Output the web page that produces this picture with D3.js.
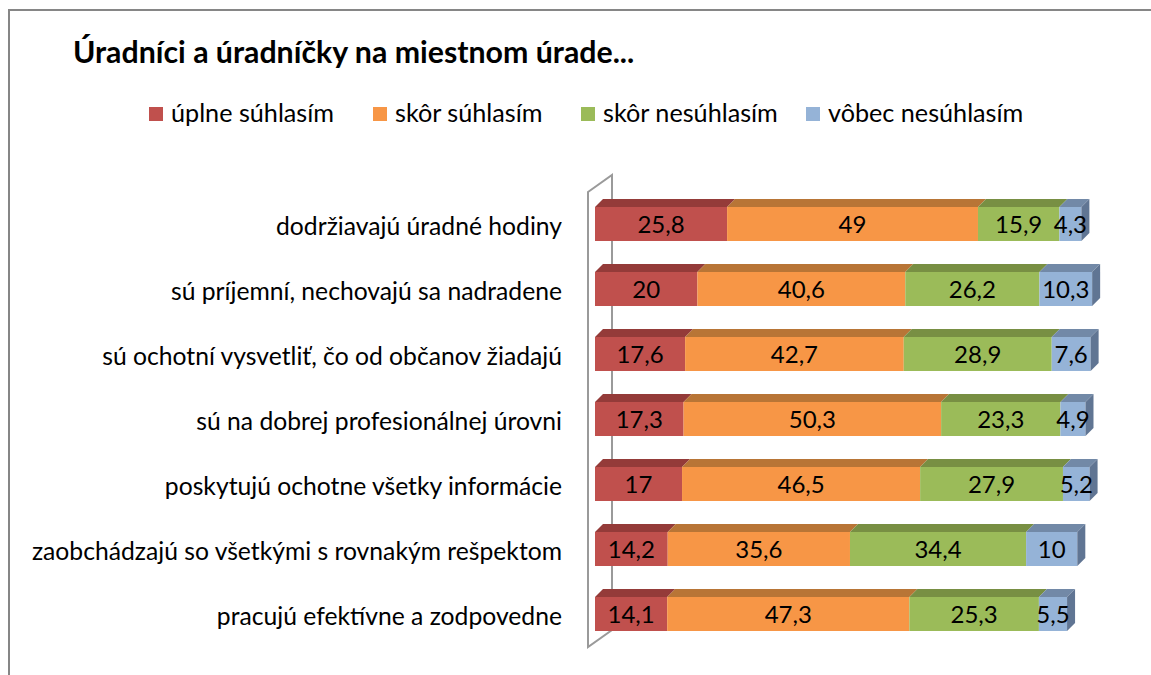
<!DOCTYPE html>
<html>
<head>
<meta charset="utf-8">
<script src="https://cdn.jsdelivr.net/npm/d3@7"></script>
<style>
  html, body { margin: 0; padding: 0; background: #fff; }
  svg { display: block; font-family: Lato, "Open Sans", sans-serif; }
</style>
</head>
<body>
<div id="chart"></div>
<script>
// ===== údaje grafu =====
const categories = [
    'dodržiavajú úradné hodiny',
    'sú príjemní, nechovajú sa nadradene',
    'sú ochotní vysvetliť, čo od občanov žiadajú',
    'sú na dobrej profesionálnej úrovni',
    'poskytujú ochotne všetky informácie',
    'zaobchádzajú so všetkými s rovnakým rešpektom',
    'pracujú efektívne a zodpovedne'
];
const seriesNames = ['úplne súhlasím', 'skôr súhlasím', 'skôr nesúhlasím', 'vôbec nesúhlasím'];
const uplneSuhlasim = [25.8, 20, 17.6, 17.3, 17, 14.2, 14.1];
const skorSuhlasim = [49, 40.6, 42.7, 50.3, 46.5, 35.6, 47.3];
const skorNesuhlasim = [15.9, 26.2, 28.9, 23.3, 27.9, 34.4, 25.3];
const vobecNesuhlasim = [4.3, 10.3, 7.6, 4.9, 5.2, 10, 5.5];
const titleText = 'Úradníci a úradníčky na miestnom úrade...';

const seriesValues = [uplneSuhlasim, skorSuhlasim, skorNesuhlasim, vobecNesuhlasim];

// farby (predná stena, horná stena)
const frontColors = ['#C0504D', '#F79646', '#9BBB59', '#95B3D7'];
const topColors = ['#943B39', '#B87536', '#788F43', '#7289A7'];
const sideColor = '#607593';

const width = 1151, height = 675;
const depthX = 8, depthY = 8;   // 3D hĺbka stĺpcov
const barH = 34;                 // výška prednej steny

const svg = d3.select('#chart').append('svg')
    .attr('width', width)
    .attr('height', height);

// rámik grafu (presahuje za okraj obrázka)
svg.append('rect')
    .attr('x', 9).attr('y', 10)
    .attr('width', 1160).attr('height', 700)
    .attr('fill', '#fff')
    .attr('stroke', '#868686')
    .attr('stroke-width', 2);

// nadpis
svg.append('text')
    .attr('x', 73).attr('y', 63)
    .attr('font-size', 30.3)
    .attr('font-weight', 'bold')
    .attr('fill', '#000')
    .text(titleText);

// legenda
const legendX = [149, 373, 581, 806];
const legend = svg.append('g').attr('class', 'legend');
seriesNames.forEach((name, i) => {
    legend.append('rect')
        .attr('x', legendX[i]).attr('y', 107)
        .attr('width', 14).attr('height', 14)
        .attr('fill', frontColors[i]);
    legend.append('text')
        .attr('x', legendX[i] + 22).attr('y', 122)
        .attr('font-size', 25.2)
        .attr('fill', '#000')
        .text(name);
});

// škály
const x = d3.scaleLinear().domain([0, 100]).range([595, 1107]);
const y = d3.scaleBand().domain(categories).range([187.5, 642.5]).paddingInner(0.48).paddingOuter(0.24);

// bočná stena osi
const wall = svg.append('g').attr('class', 'wall');
wall.append('path')
    .attr('d', 'M588,192 L612,175 L612,630 L588,647 Z')
    .attr('fill', '#fff')
    .attr('stroke', '#9a9a9a')
    .attr('stroke-width', 2);

// stohované údaje
const rows = categories.map((c, r) => {
    let acc = 0;
    return seriesValues.map((vals, s) => {
        const seg = { cat: c, s, v: vals[r], x0: acc, x1: acc + vals[r] };
        acc += vals[r];
        return seg;
    });
});

const barsG = svg.append('g').attr('class', 'bars');
rows.forEach(segs => {
    const g = barsG.append('g');
    const yTop = y(segs[0].cat) + (y.bandwidth() - barH) / 2 + depthY / 2;

    segs.forEach(d => {
        const a = x(d.x0), b = x(d.x1);
        // horná stena
        g.append('path')
            .attr('d', `M${a},${yTop} L${b},${yTop} L${b + depthX},${yTop - depthY} L${a + depthX},${yTop - depthY} Z`)
            .attr('fill', topColors[d.s]);
        // predná stena
        g.append('rect')
            .attr('x', a).attr('y', yTop)
            .attr('width', b - a).attr('height', barH)
            .attr('fill', frontColors[d.s]);
    });

    // bočná stena posledného segmentu
    const last = segs[segs.length - 1];
    const e = x(last.x1);
    g.append('path')
        .attr('d', `M${e},${yTop} L${e + depthX},${yTop - depthY} L${e + depthX},${yTop + barH - depthY} L${e},${yTop + barH} Z`)
        .attr('fill', sideColor);

    // hodnoty
    segs.forEach(d => {
        g.append('text')
            .attr('x', (x(d.x0) + x(d.x1)) / 2)
            .attr('y', yTop + barH / 2 + 1)
            .attr('dy', '0.35em')
            .attr('text-anchor', 'middle')
            .attr('font-size', 24)
            .attr('fill', '#000')
            .text(String(d.v).replace('.', ','));
    });
});

// popisy kategórií
svg.append('g').attr('class', 'labels')
    .selectAll('text')
    .data(categories)
    .enter()
    .append('text')
    .attr('x', 562)
    .attr('y', d => y(d) + y.bandwidth() / 2 + 6)
    .attr('dy', '0.35em')
    .attr('text-anchor', 'end')
    .attr('font-size', 24.7)
    .attr('fill', '#000')
    .text(d => d);
</script>
</body>
</html>
